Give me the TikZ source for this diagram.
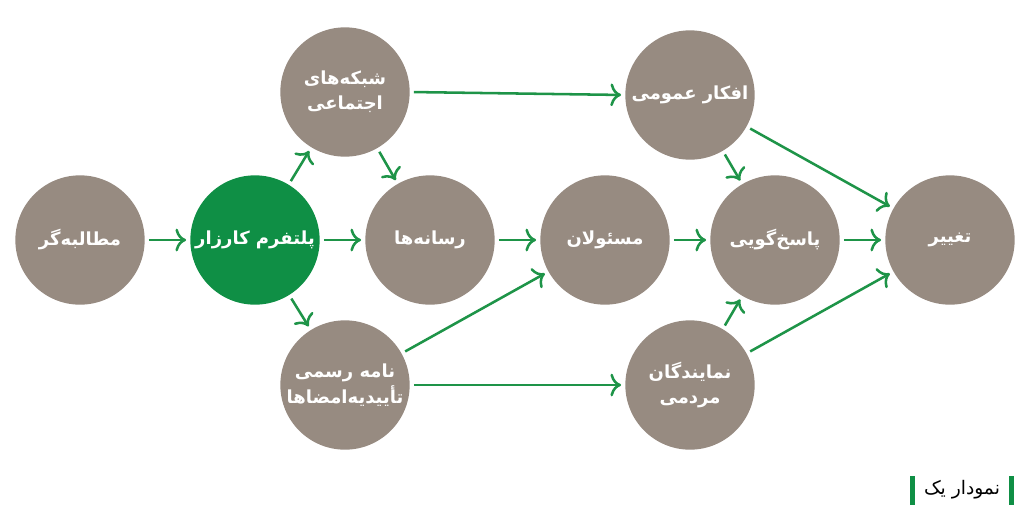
\documentclass[tikz,border=0pt]{standalone}
\usepackage{fontspec}
\usetikzlibrary{arrows.meta}
\TeXXeTstate=1
\newfontfamily\arabicfont[Script=Arabic]{DejaVu Sans}
\definecolor{cgray}{HTML}{978B81}
\definecolor{cgreen}{HTML}{0F8F45}
\definecolor{agreen}{HTML}{1E9448}
\tikzset{
  circ/.style={circle,fill=cgray,minimum size=97pt,inner sep=0pt,text=white,font=\arabicfont\bfseries\fontsize{13.5}{19}\selectfont,align=center},
  arr/.style={draw=agreen,line width=1.9pt,-{To[length=8pt,width=17pt,line width=1.9pt]},shorten <=3pt,shorten >=3pt}
}
\newcommand{\rl}[1]{\beginR #1\endR}
\begin{document}
\begin{tikzpicture}[x=0.75pt,y=-0.75pt]
\useasboundingbox (0,0) rectangle (1024,522);
\node[circ] (mot) at (80,240) {\rl{مطالبه‌گر}};
\node[circ,fill=cgreen] (plat) at (255,240) {\rl{پلتفرم کارزار}};
\node[circ] (shab) at (345,92) {\rl{شبکه‌های}\\\rl{اجتماعی}};
\node[circ] (ras) at (430,240) {\rl{رسانه‌ها}};
\node[circ] (nam) at (345,385) {\rl{نامه رسمی}\\\rl{تأییدیه‌امضاها}};
\node[circ] (mas) at (605,240) {\rl{مسئولان}};
\node[circ] (afk) at (690,95) {\rl{افکار عمومی}};
\node[circ] (pas) at (775,240) {\rl{پاسخ‌گویی}};
\node[circ] (nmy) at (690,385) {\rl{نمایندگان}\\\rl{مردمی}};
\node[circ] (tag) at (950,240) {\rl{تغییر}};
\draw[arr] (mot) -- (plat);
\draw[arr] (plat) -- (ras);
\draw[arr] (plat) -- (shab);
\draw[arr] (plat) -- (nam);
\draw[arr] (shab) -- (ras);
\draw[arr] (shab.east) -- (afk.west);
\draw[arr] (ras) -- (mas);
\draw[arr] (nam) -- (mas);
\draw[arr] (nam.east) -- (nmy.west);
\draw[arr] (mas) -- (pas);
\draw[arr] (afk) -- (pas);
\draw[arr] (nmy) -- (pas);
\draw[arr] (afk) -- (tag);
\draw[arr] (nmy) -- (tag);
\draw[arr] (pas) -- (tag);
\node[font=\arabicfont\fontsize{14}{16}\selectfont,anchor=center] (leg) at (962,490) {\rl{نمودار یک}};
\fill[cgreen] (910,476) rectangle (915,505);
\fill[cgreen] (1009,476) rectangle (1014,505);
\end{tikzpicture}
\end{document}
